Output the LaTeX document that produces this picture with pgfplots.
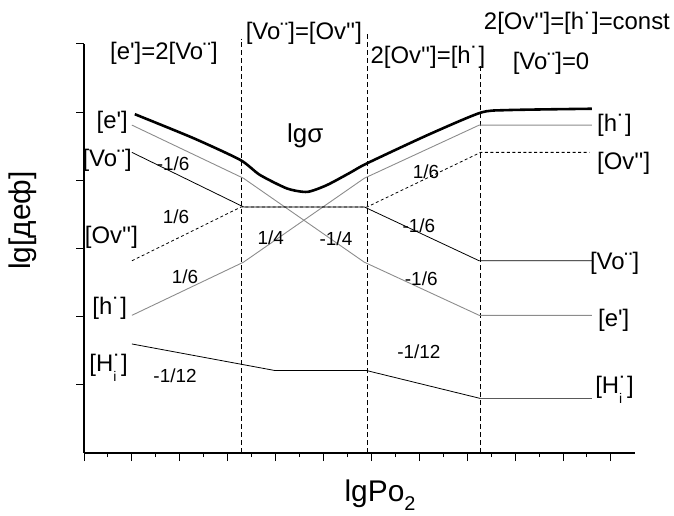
\documentclass[border=0pt]{standalone}
\usepackage{pgfplots}
\pgfplotsset{compat=1.18}
\usepackage{fontspec}
\newfontfamily\arial{Liberation Sans}
\newcommand{\Vo}{Vo¨}
\newcommand{\Ov}{Ov''}
\newcommand{\hd}{h˙}
\newcommand{\Hi}{[H\rlap{\raisebox{-0.42em}{\fontsize{14}{14}\selectfont i}}˙]}
\definecolor{lgray}{rgb}{0.55,0.55,0.55}
\tikzset{lab/.style={font=\arial\fontsize{24}{26}\selectfont, inner sep=0pt},
         sl/.style={font=\arial\fontsize{19}{21}\selectfont, inner sep=0pt}}
\begin{document}
\begin{tikzpicture}[font=\arial]
\begin{axis}[
  scale only axis, width=551bp, height=409.2bp,
  xmin=0, xmax=11.5, ymin=0, ymax=6,
  axis x line*=bottom, axis y line*=left,
  axis line style={-, line width=1.2pt},
  xtick={0,...,11}, ytick={1,...,6}, minor x tick num=1,
  xticklabels={}, yticklabels={},
  tick align=outside, major tick length=8bp, minor tick length=4bp,
  tick style={black, line width=1pt},
  clip=false,
]
% invisible frame = full picture extent
\path (axis cs:-1.754,-0.918) rectangle (axis cs:12.317,6.645);
% region boundaries
\addplot[black, line width=0.8pt, dash pattern=on 5pt off 3pt] coordinates {(3.28,0) (3.28,6.08)};
\addplot[black, line width=0.8pt, dash pattern=on 5pt off 3pt] coordinates {(5.91,0) (5.91,6.16)};
\addplot[black, line width=0.8pt, dash pattern=on 5pt off 3pt] coordinates {(8.28,0) (8.28,5.69)};
% [e']
\addplot[lgray, line width=0.9pt] coordinates {(1.0,4.81) (3.33,4.03) (5.85,2.80) (8.25,2.02) (10.6,2.02)};
% [h]
\addplot[lgray, line width=0.9pt] coordinates {(1.0,2.02) (3.33,2.80) (5.85,4.03) (8.25,4.81) (10.6,4.81)};
% [Vo]
\addplot[black, line width=0.8pt] coordinates {(1.0,4.41) (3.33,3.61) (5.85,3.61) (8.25,2.82) (10.6,2.82)};
% [Ov'']
\addplot[black, line width=0.8pt, dash pattern=on 3pt off 2.5pt] coordinates {(1.0,2.82) (3.28,3.61) (5.91,3.61) (8.28,4.41) (10.55,4.41)};
% [Hi]
\addplot[black, line width=0.8pt] coordinates {(1.0,1.60) (3.99,1.21) (5.9,1.21) (8.28,0.80)};
\addplot[black!65, line width=0.9pt] coordinates {(8.28,0.80) (10.6,0.80)};
% lg sigma
\addplot[black, line width=2.6pt, smooth, tension=0.4] coordinates {
 (1.06,4.97) (2.28,4.62) (3.26,4.30) (3.67,4.08) (4.24,3.88) (4.66,3.83)
 (5.07,3.93) (5.55,4.11) (5.91,4.25) (7.16,4.66) (8.27,4.99) (8.83,5.03) (10.6,5.05)};
% region titles
\node[lab] at (axis cs:1.67,5.87) {[e']=2[\Vo]};
\node[lab] at (axis cs:4.59,6.16) {[\Vo]=[\Ov]};
\node[lab] at (axis cs:7.18,5.81) {2[\Ov]=[\hd]};
\node[lab] at (axis cs:10.29,6.31) {2[\Ov]=[\hd]=const};
\node[lab] at (axis cs:9.75,5.72) {[\Vo]=0};
\node[font=\arial\fontsize{26}{28}\selectfont, inner sep=0pt] at (axis cs:4.62,4.66) {lgσ};
% left labels
\node[lab, anchor=east] at (axis cs:0.92,4.85) {[e']};
\node[lab, anchor=east] at (axis cs:1.0,4.30) {[\Vo]};
\node[lab, anchor=east] at (axis cs:1.13,3.16) {[\Ov]};
\node[lab, anchor=east] at (axis cs:0.90,2.12) {[\hd]};
\node[lab, anchor=east] at (axis cs:0.92,1.25) {\Hi};
% right labels
\node[lab, anchor=west] at (axis cs:10.71,4.81) {[\hd]};
\node[lab, anchor=west] at (axis cs:10.71,4.25) {[\Ov]};
\node[lab, anchor=west] at (axis cs:10.56,2.78) {[\Vo]};
\node[lab, anchor=west] at (axis cs:10.73,1.95) {[e']};
\node[lab, anchor=west] at (axis cs:10.67,0.93) {\Hi};
% slopes
\node[sl] at (axis cs:1.86,4.25) {-1/6};
\node[sl] at (axis cs:1.92,3.47) {1/6};
\node[sl] at (axis cs:2.11,2.59) {1/6};
\node[sl] at (axis cs:3.90,3.16) {1/4};
\node[sl] at (axis cs:5.26,3.15) {-1/4};
\node[sl] at (axis cs:7.14,4.13) {1/6};
\node[sl] at (axis cs:6.99,3.33) {-1/6};
\node[sl] at (axis cs:7.04,2.56) {-1/6};
\node[sl] at (axis cs:1.90,1.14) {-1/12};
\node[sl] at (axis cs:6.99,1.48) {-1/12};
% axis titles
\node[font=\arial\fontsize{30}{32}\selectfont, inner sep=0pt] at (axis cs:6.18,-0.62) {lgPo\raisebox{-0.3em}{\fontsize{20}{20}\selectfont 2}};
\node[font=\arial\fontsize{30}{32}\selectfont, inner sep=0pt, rotate=90] at (axis cs:-1.27,3.41) {lg[деф]};
\end{axis}
\end{tikzpicture}
\end{document}
